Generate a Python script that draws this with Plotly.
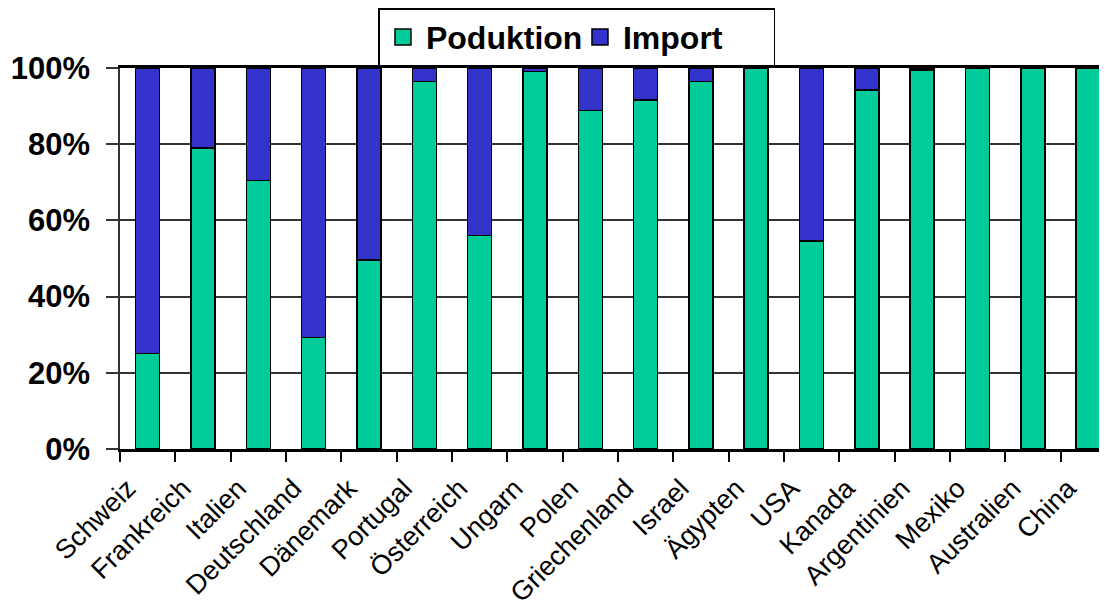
import plotly.graph_objects as go

countries = ["Schweiz", "Frankreich", "Italien", "Deutschland", "Dänemark", "Portugal",
             "Österreich", "Ungarn", "Polen", "Griechenland", "Israel", "Ägypten",
             "USA", "Kanada", "Argentinien", "Mexiko", "Australien", "China"]
produktion = [25.1, 79.0, 70.5, 29.3, 49.6, 96.5, 56.1, 99.1, 88.8, 91.6, 96.5, 100.0,
              54.6, 94.2, 99.5, 100.0, 100.0, 100.0]
importe = [74.9, 21.0, 29.5, 70.7, 50.4, 3.5, 43.9, 0.9, 11.2, 8.4, 3.5, 0.0,
           45.4, 5.8, 0.5, 0.0, 0.0, 0.0]
y_ticks = [0, 20, 40, 60, 80, 100]
y_tick_labels = ["0%", "20%", "40%", "60%", "80%", "100%"]

GREEN = "#00CC99"
BLUE = "#3333CC"

fig = go.Figure()
fig.add_trace(go.Bar(x=countries, y=produktion, name="Poduktion", marker_color=GREEN,
                     marker_line_color="#000000", marker_line_width=1.5, showlegend=False))
fig.add_trace(go.Bar(x=countries, y=importe, name="Import", marker_color=BLUE,
                     marker_line_color="#000000", marker_line_width=1.5, showlegend=False))
# legend entries
fig.add_trace(go.Scatter(x=[None], y=[None], mode="markers", name="Poduktion",
                         marker=dict(symbol="square", size=16, color=GREEN,
                                     line=dict(color="#000000", width=1.5))))
fig.add_trace(go.Scatter(x=[None], y=[None], mode="markers", name="Import",
                         marker=dict(symbol="square", size=16, color=BLUE,
                                     line=dict(color="#000000", width=1.5))))

fig.update_layout(
    width=1099, height=601,
    margin=dict(l=112, r=0, t=60, b=160, autoexpand=False),
    barmode="stack", bargap=0.566,
    plot_bgcolor="#FFFFFF", paper_bgcolor="#FFFFFF",
    font=dict(family="Liberation Sans, Arial, sans-serif", color="#000000"),
    legend=dict(orientation="h", traceorder="normal",
                x=0.463, xanchor="center", y=1.157, yanchor="top",
                bordercolor="#000000", borderwidth=1.5, bgcolor="#FFFFFF",
                font=dict(size=32, family="Liberation Sans, Arial, sans-serif", weight="bold"),
                itemsizing="trace", itemwidth=36, entrywidth=146),
)
fig.update_xaxes(type="category", range=[-0.5, 17.34], showgrid=False,
                 showline=True, linecolor="#000000", linewidth=2.5, mirror=True,
                 ticks="outside", tickson="boundaries", ticklen=10, tickwidth=1.5,
                 tickcolor="#000000", tickangle=-45, ticklabelstandoff=10,
                 ticklabelshift=-20, tickfont=dict(size=27))
fig.update_yaxes(range=[0, 100], tickvals=y_ticks, ticktext=y_tick_labels,
                 showgrid=True, gridcolor="#333333", gridwidth=1.5,
                 showline=True, linecolor="#333333", linewidth=1.5,
                 ticks="outside", ticklen=12, tickwidth=1.5, tickcolor="#333333",
                 ticklabelstandoff=10,
                 tickfont=dict(size=31, weight="bold"), zeroline=False)

fig.write_html("out.html")
